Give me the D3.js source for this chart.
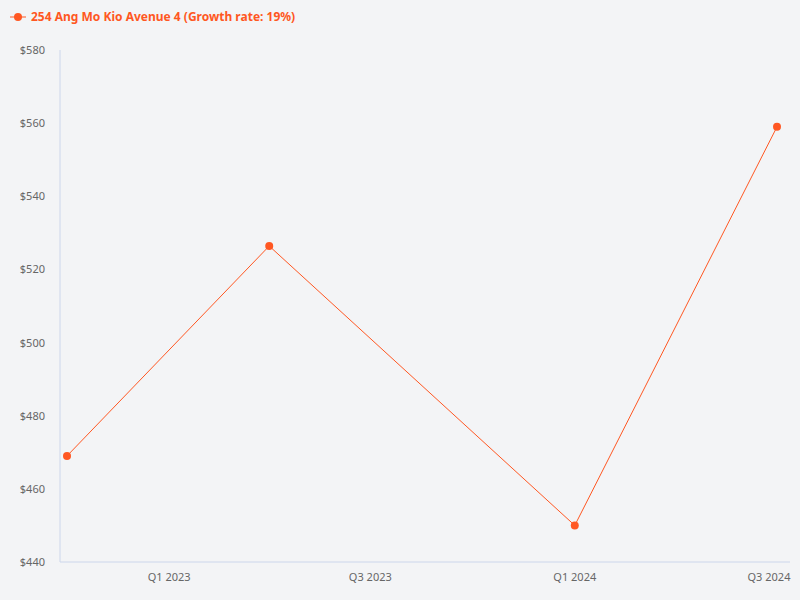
<!DOCTYPE html>
<html><head><meta charset="utf-8">
<script src="https://cdn.jsdelivr.net/npm/d3@7"></script>
<style>body{margin:0;background:#f3f4f6;font-family:"Noto Sans",sans-serif;}</style>
</head><body><svg id="chart" width="800" height="600"></svg>
<script>
const dates = ['2022-10-01', '2023-04-01', '2024-01-01', '2024-07-01'];
const prices = [469, 526.4, 450, 559];
const yTicks = [440, 460, 480, 500, 520, 540, 560, 580];
const xTicks = ['2023-01-01', '2023-07-01', '2024-01-01', '2024-07-01'];
const xLabels = ['Q1 2023', 'Q3 2023', 'Q1 2024', 'Q3 2024'];
const color = '#ff5722';

const svg = d3.select('#chart');
svg.append('rect').attr('width', 800).attr('height', 600).attr('fill', '#f3f4f6');
const parse = d3.timeParse('%Y-%m-%d');
const x = d3.scaleTime().domain([parse(dates[0]), parse(dates[3])]).range([67, 777]);
const y = d3.scaleLinear().domain([440, 580]).range([562, 50]);

// axes lines
svg.append('line').attr('x1', 60).attr('x2', 60).attr('y1', 50).attr('y2', 562).attr('stroke', '#ccd6eb');
svg.append('line').attr('x1', 60).attr('x2', 790).attr('y1', 562).attr('y2', 562).attr('stroke', '#ccd6eb');

svg.selectAll('.yl').data(yTicks).enter().append('text')
    .attr('x', 45).attr('y', d => y(d) + 4).attr('text-anchor', 'end')
    .attr('font-size', 11).attr('fill', '#666').text(d => '$' + d);

svg.selectAll('.xl').data(xTicks).enter().append('text')
    .attr('x', (d, i) => Math.min(x(parse(d)), 769)).attr('y', 581).attr('text-anchor', 'middle')
    .attr('font-size', 11).attr('fill', '#666').text((d, i) => xLabels[i]);

const pts = dates.map((d, i) => [x(parse(d)), y(prices[i])]);
svg.append('path').attr('d', d3.line()(pts)).attr('fill', 'none').attr('stroke', color).attr('stroke-width', 1);
svg.selectAll('.pt').data(pts).enter().append('circle')
    .attr('cx', d => d[0]).attr('cy', d => d[1]).attr('r', 4).attr('fill', color);

// legend
svg.append('line').attr('x1', 10).attr('x2', 26).attr('y1', 17).attr('y2', 17).attr('stroke', color);
svg.append('circle').attr('cx', 18).attr('cy', 17).attr('r', 4).attr('fill', color);
svg.append('text').attr('x', 31).attr('y', 21).attr('font-size', 12).attr('font-weight', 'bold')
    .attr('fill', color).text('254 Ang Mo Kio Avenue 4 (Growth rate: 19%)');
</script></body></html>
